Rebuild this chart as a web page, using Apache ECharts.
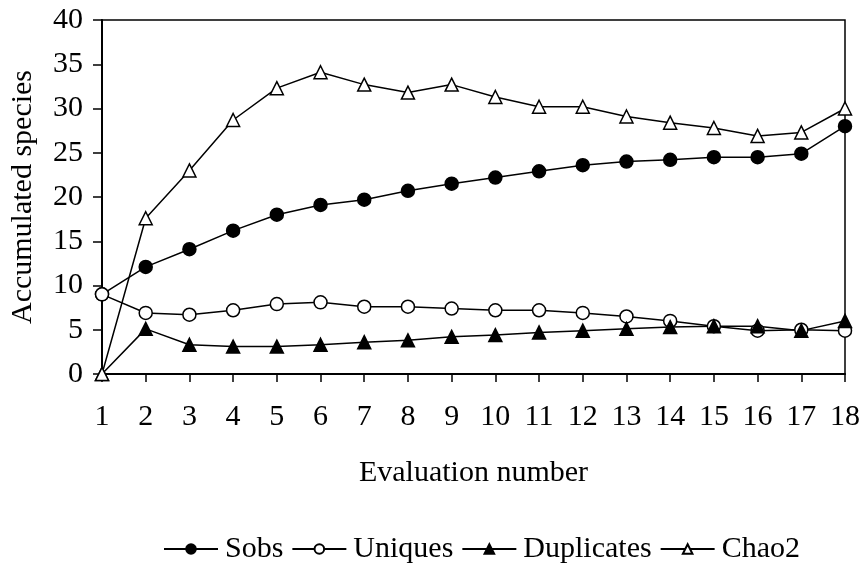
<!DOCTYPE html>
<html>
<head>
<meta charset="utf-8">
<script src="https://cdn.jsdelivr.net/npm/echarts@6/dist/echarts.min.js"></script>
<style>
html,body{margin:0;padding:0;background:#fff;}
#chart{width:863px;height:563px;}
</style>
</head>
<body>
<div id="chart"></div>
<script>
const categories = ['1','2','3','4','5','6','7','8','9','10','11','12','13','14','15','16','17','18'];
const sobs = [9, 12.1, 14.1, 16.2, 18.0, 19.1, 19.7, 20.7, 21.5, 22.2, 22.9, 23.6, 24.0, 24.2, 24.5, 24.5, 24.9, 28.0];
const uniques = [9, 6.9, 6.7, 7.2, 7.9, 8.1, 7.6, 7.6, 7.4, 7.2, 7.2, 6.9, 6.5, 6.0, 5.4, 4.9, 5.0, 4.9];
const duplicates = [0, 5.1, 3.3, 3.1, 3.1, 3.3, 3.6, 3.8, 4.2, 4.4, 4.7, 4.9, 5.1, 5.3, 5.4, 5.4, 4.9, 6.0];
const chao2 = [0, 17.6, 23.0, 28.7, 32.3, 34.1, 32.7, 31.8, 32.7, 31.3, 30.2, 30.2, 29.1, 28.4, 27.8, 26.9, 27.3, 30.0];
const yTicks = ['0','5','10','15','20','25','30','35','40'];

const FONT = '"Liberation Serif", "Times New Roman", serif';
const chart = echarts.init(document.getElementById('chart'), null, {renderer: 'canvas'});

function lineSeries(name, data, symbol, fill, size) {
  return {
    name: name,
    type: 'line',
    data: data,
    symbol: symbol,
    symbolSize: size,
    showAllSymbol: true,
    lineStyle: {color: '#000', width: 1.5},
    itemStyle: {color: fill, borderColor: '#000', borderWidth: 1.5},
    emphasis: {disabled: true},
    animation: false
  };
}

chart.setOption({
  backgroundColor: '#fff',
  animation: false,
  grid: {
    left: 101.7, right: 15.3, top: 20, bottom: 189,
    show: true, borderColor: '#000', borderWidth: 1.5, backgroundColor: 'transparent'
  },
  legend: {
    data: ['Sobs', 'Uniques', 'Duplicates', 'Chao2'],
    top: 529,
    left: 158,
    itemWidth: 54,
    itemHeight: 12,
    itemGap: 8,
    textStyle: {fontFamily: FONT, fontSize: 30, color: '#000', padding: [0, 0, 0, 2]}
  },
  xAxis: {
    type: 'category',
    data: categories,
    boundaryGap: false,
    name: 'Evaluation number',
    nameLocation: 'middle',
    nameGap: 84,
    nameTextStyle: {fontFamily: FONT, fontSize: 30, color: '#000'},
    axisLine: {lineStyle: {color: '#000', width: 2}},
    axisTick: {show: true, length: 8, lineStyle: {color: '#000', width: 1.5}, alignWithLabel: true},
    axisLabel: {fontFamily: FONT, fontSize: 30, color: '#000', margin: 28, interval: 0},
    splitLine: {show: false}
  },
  yAxis: {
    type: 'value',
    min: 0, max: 40, interval: 5,
    name: 'Accumulated species',
    nameLocation: 'middle',
    nameGap: 64,
    nameRotate: 90,
    nameTextStyle: {fontFamily: FONT, fontSize: 30, color: '#000'},
    axisLine: {show: true, lineStyle: {color: '#000', width: 2}},
    axisTick: {show: true, length: 9, lineStyle: {color: '#000', width: 1.5}},
    axisLabel: {
      fontFamily: FONT, fontSize: 30, color: '#000', margin: 19,
      formatter: function (v) { return yTicks[Math.round(v / 5)]; }
    },
    splitLine: {show: false}
  },
  series: [
    lineSeries('Sobs', sobs, 'circle', '#000', 13),
    lineSeries('Uniques', uniques, 'circle', '#fff', 13),
    lineSeries('Duplicates', duplicates, 'triangle', '#000', 13),
    lineSeries('Chao2', chao2, 'triangle', '#fff', 13)
  ]
});
</script>
</body>
</html>
